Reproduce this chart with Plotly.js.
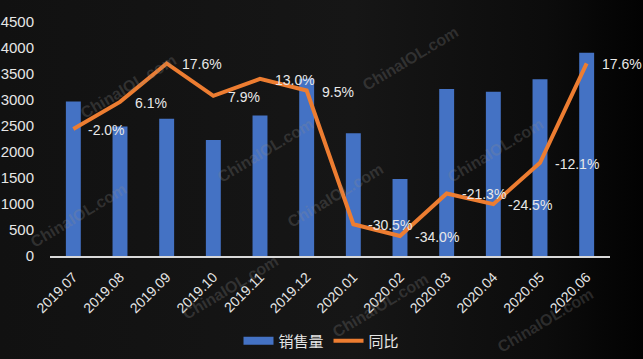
<!DOCTYPE html>
<html>
<head>
<meta charset="utf-8">
<script src="https://cdn.plot.ly/plotly-3.0.1.min.js"></script>
<style>
  html, body { margin: 0; padding: 0; }
  body { width: 643px; height: 359px; overflow: hidden;
         background: linear-gradient(to right, #111111 0%, #161616 55%, #0c0c0c 85%, #020202 100%); }
  #chart { width: 643px; height: 359px; }
</style>
</head>
<body>
<div id="chart"></div>
<script>
// ---- data ----
const months = ["2019.07","2019.08","2019.09","2019.10","2019.11","2019.12",
                "2020.01","2020.02","2020.03","2020.04","2020.05","2020.06"];
const sales = [2970, 2490, 2640, 2230, 2700, 3410, 2360, 1480, 3210, 3160, 3400, 3910];
const yoy = [-2.0, 6.1, 17.6, 7.9, 13.0, 9.5, -30.5, -34.0, -21.3, -24.5, -12.1, 17.6];
const salesName = "销售量";
const yoyName = "同比";
const watermarkText = "ChinaIOL.com";
const watermarkSpots = [[128,86],[265,150],[78,215],[230,287],[410,58],[495,150],[545,320],[335,195],[380,305]];

const FONT = '"Liberation Sans", Arial, "Noto Sans CJK SC", sans-serif';
const BLUE = '#4472C4';
const ORANGE = '#ED7D31';

const traces = [
  { type: 'bar', x: months, y: sales, name: salesName, marker: { color: BLUE },
    showlegend: false, hoverinfo: 'skip' },
  // legend-only entry for the bars, drawn as a wide bar like the original legend key
  { type: 'scatter', mode: 'lines', x: months, y: months.map(() => null), name: salesName,
    line: { color: BLUE, width: 8 }, hoverinfo: 'skip' },
  { type: 'scatter', mode: 'lines', x: months, y: yoy, yaxis: 'y2', name: yoyName,
    line: { color: ORANGE, width: 4, shape: 'linear' }, hoverinfo: 'skip' }
];

const annotations = months.map((m, i) => ({
  x: i, y: yoy[i], xref: 'x', yref: 'y2', text: yoy[i].toFixed(1) + '%',
  showarrow: false, xanchor: 'left', yanchor: 'middle', xshift: 13, yshift: -1,
  font: { family: FONT, size: 14, color: '#e8e8e8' }
}));

watermarkSpots.forEach(p => {
  annotations.push({
    x: (p[0] - 50) / 560, y: (256 - p[1]) / 234, xref: 'paper', yref: 'paper',
    text: '<b>' + watermarkText + '</b>', showarrow: false, textangle: -31,
    xanchor: 'center', yanchor: 'middle',
    font: { family: FONT, size: 16, color: 'rgba(140,140,140,0.26)' }
  });
});

const layout = {
  width: 643, height: 359,
  margin: { l: 50, r: 33, t: 22, b: 103, pad: 0 },
  paper_bgcolor: 'rgba(0,0,0,0)', plot_bgcolor: 'rgba(0,0,0,0)',
  font: { family: FONT, color: '#e6e6e6' },
  bargap: 0.68,
  xaxis: { type: 'category', categoryorder: 'array', categoryarray: months,
           range: [-0.5, months.length - 0.5], autorange: false, automargin: false,
           showline: true, linecolor: '#d9d9d9', linewidth: 1.5,
           showgrid: false, zeroline: false, tickangle: -45,
           ticks: 'outside', ticklen: 6, tickcolor: 'rgba(0,0,0,0)',
           tickfont: { family: FONT, size: 14, color: '#e6e6e6' } },
  yaxis: { range: [0, 4500], autorange: false, automargin: false, dtick: 500,
           showgrid: false, zeroline: false, showline: false,
           ticks: 'outside', ticklen: 12, tickcolor: 'rgba(0,0,0,0)',
           tickfont: { family: FONT, size: 15, color: '#e6e6e6' } },
  yaxis2: { overlaying: 'y', side: 'right', range: [-40, 30], autorange: false, visible: false },
  legend: { orientation: 'h', xref: 'container', yref: 'container', x: 0.5, xanchor: 'center',
            y: 0.05, yanchor: 'middle', bgcolor: 'rgba(0,0,0,0)',
            font: { family: FONT, size: 15, color: '#e6e6e6' }, traceorder: 'normal' },
  annotations: annotations,
  showlegend: true
};

Plotly.newPlot('chart', traces, layout, { displayModeBar: false, staticPlot: true });
</script>
</body>
</html>
